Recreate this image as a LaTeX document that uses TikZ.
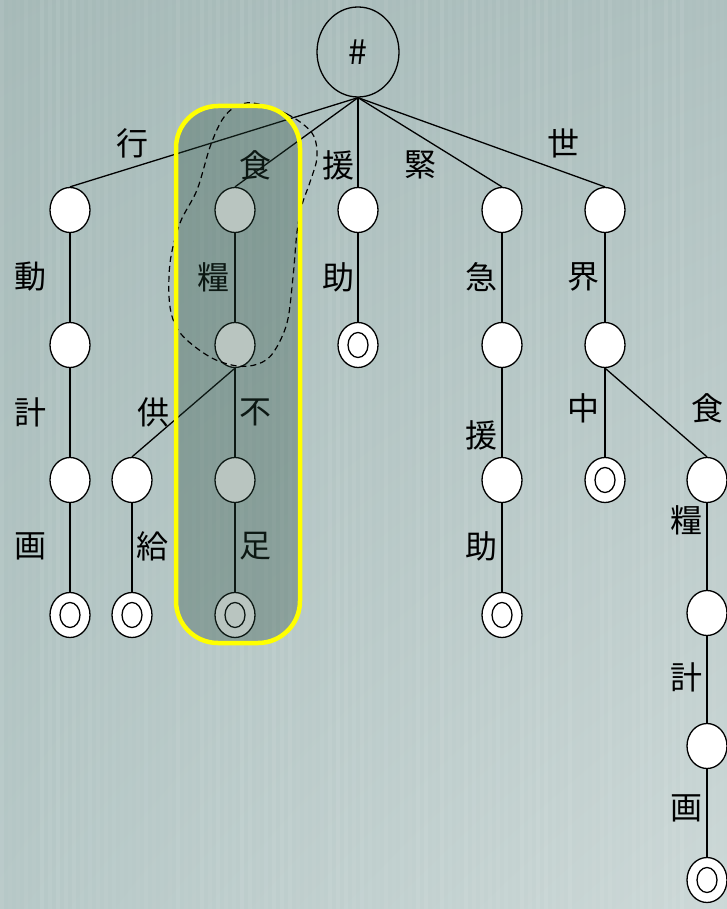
\documentclass[tikz,border=0pt]{standalone}
\usepackage{fontspec}
\newfontfamily\cjk{Noto Sans CJK JP}
\usetikzlibrary{shapes.geometric,shadings}
\definecolor{bgA}{HTML}{A6BAB8}
\definecolor{bgB}{HTML}{AEC0BF}
\definecolor{bgC}{HTML}{B6C8C7}
\definecolor{bgD}{HTML}{CCD8D7}
\definecolor{hlshade}{RGB}{40,75,62}
\definecolor{hiyellow}{RGB}{255,255,0}
\pgfdeclarelayer{bglayer}
\pgfdeclarelayer{edgelayer}
\pgfsetlayers{bglayer,edgelayer,main}
\tikzset{
  nd/.style={ellipse, draw=black, fill=white, line width=1.3pt, minimum width=40pt, minimum height=45pt, inner sep=0pt},
  term/.style={nd, path picture={\draw[line width=1.3pt] (path picture bounding box.center) ellipse [x radius=10pt, y radius=12.5pt];}},
  lbl/.style={font=\cjk\fontsize{32}{32}\selectfont, inner sep=0pt, text=black},
  edge/.style={line width=1.3pt, draw=black},
}
\begin{document}
\begin{tikzpicture}[x=1pt,y=-1pt]
\useasboundingbox (0,0) rectangle (727,909);
% background
\begin{pgfonlayer}{bglayer}
\shade[upper left=bgA, upper right=bgB, lower left=bgC, lower right=bgD] (0,0) rectangle (727,909);
\pgfmathsetseed{7}
\foreach \i in {0,...,90}{
  \pgfmathsetmacro{\op}{0.02+0.06*rnd}
  \fill[white, opacity=\op] (\i*8,0) rectangle (\i*8+4,909);
}
\end{pgfonlayer}
% nodes
\node[ellipse, draw=black, line width=1.3pt, minimum width=82pt, minimum height=90pt, inner sep=0pt, font=\cjk\fontsize{34}{34}\selectfont] (r) at (358,52) {\#};
% column A
\node[nd] (a1) at (70,210) {};
\node[nd] (a2) at (70,345) {};
\node[nd] (a3) at (70,480) {};
\node[term] (a4) at (70,615) {};
% column B
\node[nd] (b1) at (132,480) {};
\node[term] (b2) at (132,615) {};
% column C
\node[nd] (c1) at (235,210) {};
\node[nd] (c2) at (235,345) {};
\node[nd] (c3) at (235,480) {};
\node[term] (c4) at (235,615) {};
% column D
\node[nd] (d1) at (358,210) {};
\node[term] (d2) at (358,345) {};
% column E
\node[nd] (e1) at (502,210) {};
\node[nd] (e2) at (502,345) {};
\node[nd] (e3) at (502,480) {};
\node[term] (e4) at (502,615) {};
% column F
\node[nd] (f1) at (605,210) {};
\node[nd] (f2) at (605,345) {};
\node[term] (f3) at (605,480) {};
% column G
\node[nd] (g1) at (707,480) {};
\node[nd] (g2) at (707,613) {};
\node[nd] (g3) at (707,746) {};
\node[term] (g4) at (707,880) {};
% edges
\begin{pgfonlayer}{edgelayer}
\draw[edge] (r.south) -- (a1.north);
\draw[edge] (r.south) -- (c1.north);
\draw[edge] (r.south) -- (d1.north);
\draw[edge] (r.south) -- (e1.north);
\draw[edge] (r.south) -- (f1.north);
\draw[edge] (a1) -- (a2); \draw[edge] (a2) -- (a3); \draw[edge] (a3) -- (a4);
\draw[edge] (c2.south) -- (b1.north); \draw[edge] (b1) -- (b2);
\draw[edge] (c1) -- (c2); \draw[edge] (c2) -- (c3); \draw[edge] (c3) -- (c4);
\draw[edge] (d1) -- (d2);
\draw[edge] (e1) -- (e2); \draw[edge] (e2) -- (e3); \draw[edge] (e3) -- (e4);
\draw[edge] (f1) -- (f2); \draw[edge] (f2) -- (f3);
\draw[edge] (f2.south) -- (g1.north);
\draw[edge] (g1) -- (g2); \draw[edge] (g2) -- (g3); \draw[edge] (g3) -- (g4);
\end{pgfonlayer}
% labels
\node[lbl] (l1) at (132,143) {行};
\node[lbl] (l2) at (255,165) {食};
\node[lbl] (l3) at (338,165) {援};
\node[lbl] (l4) at (420,165) {緊};
\node[lbl] (l5) at (563,143) {世};
\node[lbl] (l6) at (30,277) {動};
\node[lbl] (l7) at (30,412) {計};
\node[lbl] (l8) at (30,546) {画};
\node[lbl] (l9) at (153,412) {供};
\node[lbl] (l10) at (152,546) {給};
\node[lbl] (l11) at (213,277) {糧};
\node[lbl] (l12) at (255,412) {不};
\node[lbl] (l13) at (255,546) {足};
\node[lbl] (l14) at (338,277) {助};
\node[lbl] (l15) at (481,277) {急};
\node[lbl] (l16) at (481,435) {援};
\node[lbl] (l17) at (481,546) {助};
\node[lbl] (l18) at (583,277) {界};
\node[lbl] (l19) at (583,408) {中};
\node[lbl] (l20) at (707,408) {食};
\node[lbl] (l21) at (686,520) {糧};
\node[lbl] (l22) at (686,677) {計};
\node[lbl] (l23) at (686,808) {画};
% highlight overlay
\fill[hlshade, fill opacity=0.32, rounded corners=42pt] (176,106) rectangle (300,643);
% dashed blob
\draw[dash pattern=on 6pt off 4pt, line width=1.2pt] plot[smooth cycle, tension=0.55] coordinates {
  (253,103) (287,114) (312,133) (317,157) (310,182) (302,205) (297,232) (293,277) (287,323) (273,353) (258,364) (237,366) (210,357) (181,334) (170,307) (170,263) (180,223) (197,190) (210,147) (222,120) (235,107)};
% yellow border
\draw[hiyellow, line width=4.5pt, rounded corners=42pt] (176,106) rectangle (300,643);
\end{tikzpicture}
\end{document}
